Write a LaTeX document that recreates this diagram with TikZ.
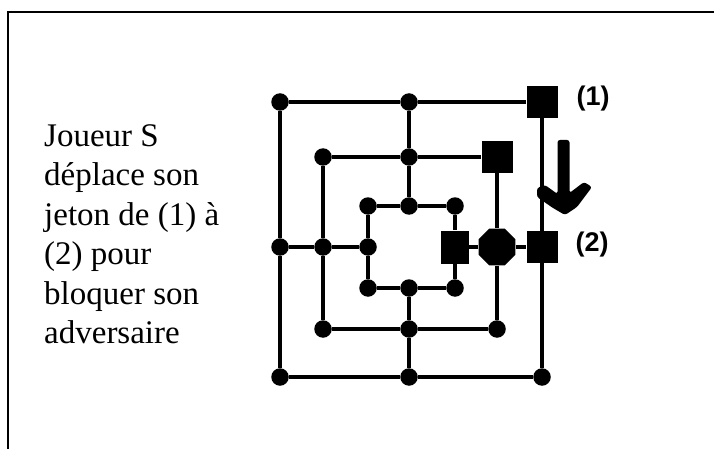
\documentclass[tikz,border=0pt]{standalone}
\usepackage{fontspec}
\setmainfont{Liberation Serif}
\newfontfamily\labelfont{Liberation Sans}
\usetikzlibrary{shapes.geometric}

\begin{document}
\begin{tikzpicture}[x=1pt,y=-1pt,
  track/.style={line width=3.5pt},
  spot/.style={circle,fill=black,inner sep=0pt,minimum size=17.5pt},
  piece/.style={rectangle,fill=black,inner sep=0pt,minimum width=31pt,minimum height=32pt},
  rival/.style={regular polygon,regular polygon sides=8,fill=black,inner sep=0pt,minimum size=40pt},
  tag/.style={font=\labelfont\bfseries\fontsize{27}{30}\selectfont,inner sep=0pt},
  caption/.style={font=\fontsize{33}{39.5}\selectfont,align=left,inner sep=0pt,anchor=north west}]
\useasboundingbox (0,0) rectangle (714,449);

% open frame
\draw[line width=2pt] (7.5,449) -- (7.5,12.5) -- (714,12.5);

% caption
\node[caption] (txt) at (44,124) {Joueur S\\déplace son\\jeton de (1) à\\(2) pour\\bloquer son\\adversaire};

% outer square
\node[spot]  (otl) at (280,102) {};
\node[spot]  (otc) at (409,102) {};
\node[piece] (otr) at (542,102) {};
\node[spot]  (oml) at (280,247) {};
\node[piece] (omr) at (542,247) {};
\node[spot]  (obl) at (280,377) {};
\node[spot]  (obc) at (409,377) {};
\node[spot]  (obr) at (542,377) {};

% middle square
\node[spot]  (mtl) at (323,157) {};
\node[spot]  (mtc) at (409,157) {};
\node[piece] (mtr) at (497,157) {};
\node[spot]  (mml) at (323,247) {};
\node[rival] (mmr) at (497,247) {};
\node[spot]  (mbl) at (323,329) {};
\node[spot]  (mbc) at (409,329) {};
\node[spot]  (mbr) at (497,329) {};

% inner square
\node[spot]  (itl) at (368,206) {};
\node[spot]  (itc) at (409,206) {};
\node[spot]  (itr) at (455,206) {};
\node[spot]  (iml) at (368,247) {};
\node[piece,minimum width=28pt,minimum height=33pt] (imr) at (455,247) {};
\node[spot]  (ibl) at (368,288) {};
\node[spot]  (ibc) at (409,288) {};
\node[spot]  (ibr) at (455,288) {};

% squares
\draw[track] (otl) -- (otc) -- (otr) -- (omr) -- (obr) -- (obc) -- (obl) -- (oml) -- (otl);
\draw[track] (mtl) -- (mtc) -- (mtr) -- (mmr) -- (mbr) -- (mbc) -- (mbl) -- (mml) -- (mtl);
\draw[track] (itl) -- (itc) -- (itr) -- (imr) -- (ibr) -- (ibc) -- (ibl) -- (iml) -- (itl);

% cross links
\draw[track] (otc) -- (mtc) -- (itc);
\draw[track] (ibc) -- (mbc) -- (obc);
\draw[track] (oml) -- (mml) -- (iml);
\draw[track] (imr) -- (mmr) -- (omr);

% move labels
\node[tag] (one) at (593,99) {(1)};
\node[tag] (two) at (592,245) {(2)};

% move arrow
\fill[rounded corners=2.5pt] (557.5,140) -- (569.5,140) -- (569.5,193) -- (584,182) -- (592,187)
  -- (577,207) -- (565,215) -- (553,208) -- (537,197) -- (537,188) -- (545,185) -- (557.5,194) -- cycle;
\end{tikzpicture}
\end{document}
